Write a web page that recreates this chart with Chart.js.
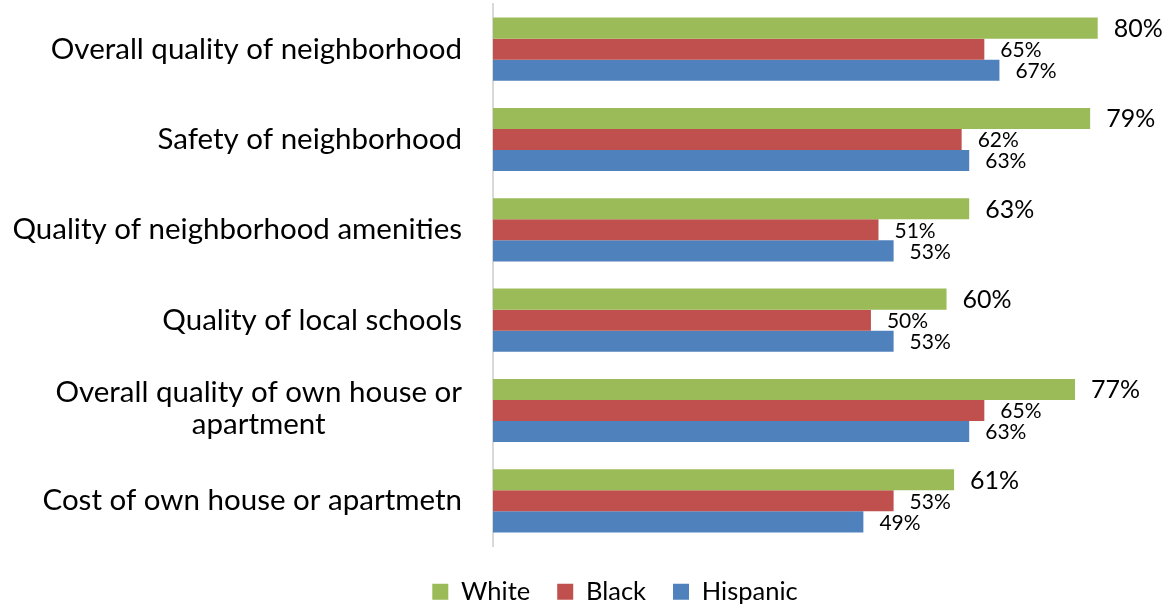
<!DOCTYPE html>
<html>
<head>
<meta charset="utf-8">
<script src="https://cdn.jsdelivr.net/npm/chart.js@4/dist/chart.umd.min.js"></script>
<style>
  html, body { margin: 0; padding: 0; background: #ffffff; }
  #wrap { width: 1168px; height: 606px; position: relative; }
</style>
</head>
<body>
<div id="wrap"><canvas id="chart"></canvas></div>
<script>
// Neighborhood satisfaction by group (percent satisfied)
const categories = [
  ['Overall quality of neighborhood'],
  ['Safety of neighborhood'],
  ['Quality of neighborhood amenities'],
  ['Quality of local schools'],
  ['Overall quality of own house or', 'apartment'],
  ['Cost of own house or apartmetn']
];
const whiteValues    = [80, 79, 63, 60, 77, 61];
const blackValues    = [65, 62, 51, 50, 65, 53];
const hispanicValues = [67, 63, 53, 53, 63, 49];
const seriesNames = ['White', 'Black', 'Hispanic'];
const seriesColors = ['#9BBB59', '#C0504D', '#4F81BD'];

const FONT = 'Lato, "Open Sans", sans-serif';
const CAT_FONT_SIZE = 29.5;
const LABEL_RIGHT_GAP = 31;   // space between category text and the axis line
const CAT_LINE_HEIGHT = 32;

// Category labels: right-aligned block, lines centered within the block
const categoryLabels = {
  id: 'categoryLabels',
  afterDraw(chart) {
    const { ctx, chartArea } = chart;
    const y = chart.scales.y;
    ctx.save();
    ctx.font = `${CAT_FONT_SIZE}px ${FONT}`;
    ctx.fillStyle = '#000000';
    ctx.textBaseline = 'middle';
    ctx.textAlign = 'center';
    const right = chartArea.left - LABEL_RIGHT_GAP;
    categories.forEach((lines, i) => {
      const cy = y.getPixelForValue(i);
      const w = Math.max(...lines.map(l => ctx.measureText(l).width));
      const cx = right - w / 2;
      const top = cy - (lines.length - 1) * CAT_LINE_HEIGHT / 2 - (lines.length > 1 ? 2 : 0);
      lines.forEach((l, k) => ctx.fillText(l, cx, top + k * CAT_LINE_HEIGHT));
    });
    ctx.restore();
  }
};

// Value labels just past the end of each bar
const valueLabels = {
  id: 'valueLabels',
  afterDatasetsDraw(chart) {
    const { ctx } = chart;
    ctx.save();
    ctx.fillStyle = '#000000';
    ctx.textAlign = 'left';
    ctx.textBaseline = 'middle';
    chart.data.datasets.forEach((ds, di) => {
      const meta = chart.getDatasetMeta(di);
      ctx.font = (di === 0 ? '25px ' : '21px ') + FONT;
      meta.data.forEach((bar, i) => {
        ctx.fillText(ds.data[i] + '%', bar.x + 16, bar.y + 1);
      });
    });
    ctx.restore();
  }
};

new Chart(document.getElementById('chart'), {
  type: 'bar',
  data: {
    labels: categories.map(c => c.join(' ')),
    datasets: [
      { label: seriesNames[0], data: whiteValues,    backgroundColor: seriesColors[0] },
      { label: seriesNames[1], data: blackValues,    backgroundColor: seriesColors[1] },
      { label: seriesNames[2], data: hispanicValues, backgroundColor: seriesColors[2] }
    ]
  },
  options: {
    indexAxis: 'y',
    responsive: true,
    maintainAspectRatio: false,
    animation: false,
    layout: { padding: { left: 62, right: 0, top: 4, bottom: -8.5 } },
    datasets: { bar: { categoryPercentage: 0.7, barPercentage: 1.0 } },
    scales: {
      x: {
        min: 0,
        max: 89.3,
        display: true,
        grid: { display: false, drawTicks: false },
        border: { display: false },
        ticks: { display: false },
        afterFit(scale) { scale.height = 6; }
      },
      y: {
        grid: { display: false, drawTicks: false },
        border: { display: true, color: '#D9D9D9', width: 2 },
        ticks: { display: false },
        afterFit(scale) { scale.width = 431; }
      }
    },
    plugins: {
      tooltip: { enabled: false },
      legend: {
        position: 'bottom',
        labels: {
          boxWidth: 16,
          boxHeight: 16,
          padding: 27,
          color: '#000000',
          font: { family: FONT, size: 25.5 }
        }
      }
    }
  },
  plugins: [categoryLabels, valueLabels]
});
</script>
</body>
</html>
